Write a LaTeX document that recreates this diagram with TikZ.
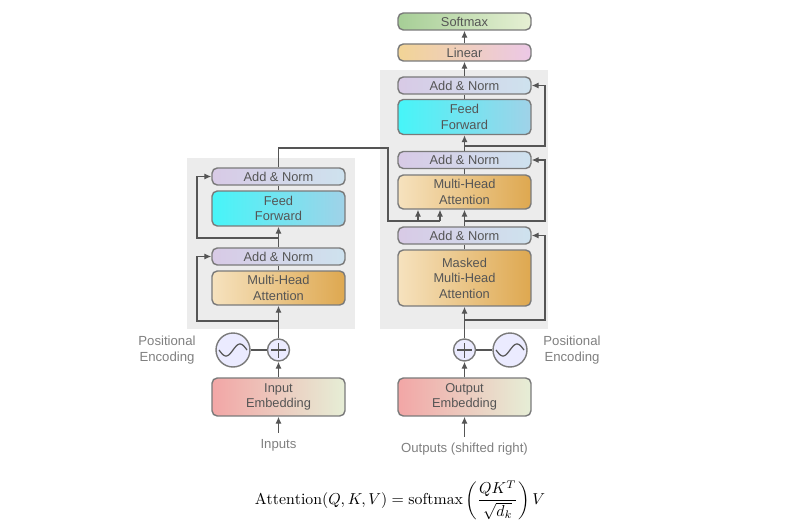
\documentclass[tikz,border=0pt]{standalone}
\usepackage{amsmath}
\usepackage{fontspec}
\newfontfamily\lab{Liberation Sans}
\usetikzlibrary{arrows.meta}
\definecolor{edge}{HTML}{7A7A7A}
\definecolor{wire}{HTML}{555555}
\definecolor{txt}{HTML}{555555}
\tikzset{
  blk/.style={draw=edge,line width=0.8pt,rounded corners=3pt,minimum width=2.66cm,
    align=center,text=txt,font=\lab\fontsize{7.3}{8.8}\selectfont,inner sep=0pt},
  addnorm/.style={blk,minimum height=0.34cm,left color={rgb,255:red,216;green,202;blue,230},right color={rgb,255:red,206;green,226;blue,238}},
  ff/.style={blk,minimum height=0.7cm,left color={rgb,255:red,70;green,245;blue,248},right color={rgb,255:red,160;green,210;blue,232}},
  mha/.style={blk,minimum height=0.68cm,left color={rgb,255:red,246;green,226;blue,190},right color={rgb,255:red,222;green,168;blue,80}},
  emb/.style={blk,minimum height=0.76cm,left color={rgb,255:red,242;green,166;blue,166},right color={rgb,255:red,230;green,238;blue,214}},
  arr/.style={draw=wire,line width=0.7pt,-{Latex[length=4pt,width=3.5pt]}},
  ln/.style={draw=wire,line width=0.7pt},
  pe/.style={circle,draw=edge,line width=0.8pt,fill=blue!8,minimum size=0.68cm},
  plus/.style={circle,draw=edge,line width=0.8pt,fill=blue!8,minimum size=0.44cm},
  note/.style={text=gray,font=\lab\fontsize{7.5}{9}\selectfont,align=center}
}
\begin{document}
\begin{tikzpicture}[x=0.02cm,y=-0.02cm]
\useasboundingbox (0,0) rectangle (797,530);
\fill[gray!15] (187,158) rectangle (355,329);
\fill[gray!15] (380,70) rectangle (548,329);

% encoder
\node[emb] (inemb) at (278.5,397) {Input\\Embedding};
\node[plus] (encplus) at (278.5,350) {};
\node[pe] (encpe) at (233,350) {};
\node[mha] (encmha) at (278.5,288) {Multi-Head\\Attention};
\node[addnorm] (encan1) at (278.5,256.5) {Add \& Norm};
\node[ff] (encff) at (278.5,208.5) {Feed\\Forward};
\node[addnorm] (encan2) at (278.5,176.5) {Add \& Norm};
\node[note] (inputs) at (278.5,445) {Inputs};
\node[note] (encpos) at (167,350) {Positional\\Encoding};

% decoder
\node[emb] (outemb) at (464.5,397) {Output\\Embedding};
\node[plus] (decplus) at (464.5,350) {};
\node[pe] (decpe) at (510,350) {};
\node[mha,minimum height=1.12cm] (decmmha) at (464.5,278) {Masked\\Multi-Head\\Attention};
\node[addnorm] (decan1) at (464.5,235.5) {Add \& Norm};
\node[mha] (decmha) at (464.5,192) {Multi-Head\\Attention};
\node[addnorm] (decan2) at (464.5,160) {Add \& Norm};
\node[ff] (decff) at (464.5,117) {Feed\\Forward};
\node[addnorm] (decan3) at (464.5,85.5) {Add \& Norm};
\node[blk,minimum height=0.34cm,left color={rgb,255:red,242;green,212;blue,150},right color={rgb,255:red,236;green,200;blue,230}] (linear) at (464.5,52.5) {Linear};
\node[blk,minimum height=0.34cm,left color={rgb,255:red,166;green,206;blue,150},right color={rgb,255:red,230;green,240;blue,212}] (softmax) at (464.5,21.5) {Softmax};
\node[note] (outputs) at (464.5,449) {Outputs (shifted right)};
\node[note] (decpos) at (572,350) {Positional\\Encoding};

% sine waves
\foreach \c in {encpe,decpe}
  \draw[wire,line width=0.7pt,shift={(\c)}] plot[domain=-14:14,samples=30] (\x,{-6*sin(\x*12.86)});
\foreach \c in {encplus,decplus}{
  \draw[wire,line width=0.7pt] ([xshift=-0.15cm]\c.center) -- ([xshift=0.15cm]\c.center);
  \draw[wire,line width=0.7pt] ([yshift=-0.15cm]\c.center) -- ([yshift=0.15cm]\c.center);}

% encoder wiring
\coordinate (e1) at (278.5,321);
\coordinate (e2) at (278.5,238);
\draw[arr] (inputs) -- (inemb);
\draw[arr] (inemb) -- (encplus);
\draw[ln] (encpe) -- (encplus);
\draw[arr] (encplus) -- (encmha);
\draw[arr] (e1) -| (197,256.5) -- (encan1);
\draw[ln] (encmha) -- (encan1);
\draw[arr] (encan1) -- (encff);
\draw[arr] (e2) -| (197,176.5) -- (encan2);
\draw[ln] (encff) -- (encan2);

% decoder wiring
\coordinate (d1) at (464.5,320);
\coordinate (d2) at (464.5,221);
\coordinate (d3) at (464.5,146);
\draw[arr] (outputs) -- (outemb);
\draw[arr] (outemb) -- (decplus);
\draw[ln] (decpe) -- (decplus);
\draw[arr] (decplus) -- (decmmha);
\draw[arr] (d1) -| (545,235.5) -- (decan1);
\draw[ln] (decmmha) -- (decan1);
\draw[arr] (decan1) -- (decmha);
\draw[arr] (d2) -| (545,160) -- (decan2);
\draw[ln] (decmha) -- (decan2);
\draw[arr] (decan2) -- (decff);
\draw[arr] (d3) -| (545,85.5) -- (decan3);
\draw[ln] (decff) -- (decan3);
\draw[arr] (decan3) -- (linear);
\draw[arr] (linear) -- (softmax);

% encoder output to decoder
\coordinate (k) at (418,221);
\coordinate (v) at (440,221);
\draw[ln] (encan2) -- (278.5,148) -| (388,221) -- (v);
\draw[arr] (k) -- (k |- decmha.south);
\draw[arr] (v) -- (v |- decmha.south);

\node[scale=0.9] (formula) at (400,500) {$\mathrm{Attention}(Q,K,V)=\mathrm{softmax}\left(\dfrac{QK^T}{\sqrt{d_k}}\right)V$};
\end{tikzpicture}
\end{document}
